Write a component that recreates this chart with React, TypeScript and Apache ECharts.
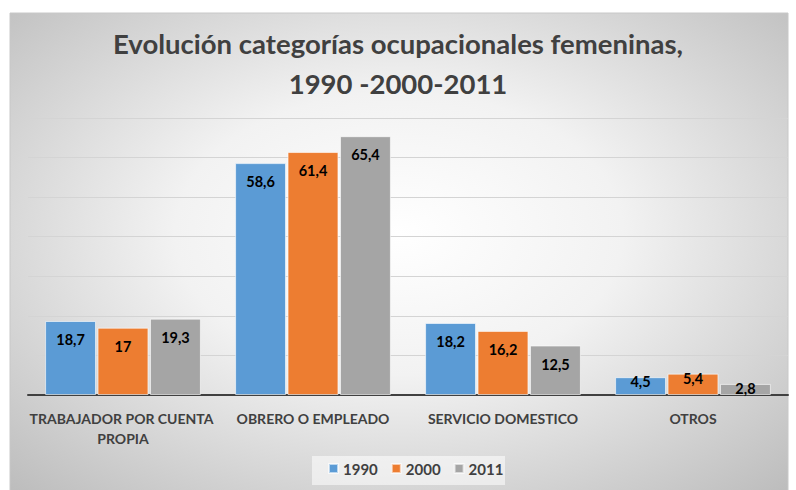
import React, { useEffect, useRef } from "react";
import * as echarts from "echarts";

const categories = ["TRABAJADOR POR CUENTA PROPIA", "OBRERO O EMPLEADO", "SERVICIO DOMESTICO", "OTROS"];
const seriesNames = ["1990", "2000", "2011"];
const values1990 = [18.7, 58.6, 18.2, 4.5];
const values2000 = [17, 61.4, 16.2, 5.4];
const values2011 = [19.3, 65.4, 12.5, 2.8];
const colors = ["#5B9BD5", "#ED7D31", "#A5A5A5"];

const FONT = "Lato, 'Open Sans', sans-serif";

export default function App() {
  const ref = useRef<HTMLDivElement>(null);
  useEffect(() => {
    const chart = echarts.init(ref.current!, null, { renderer: "svg" });
    const all = [values1990, values2000, values2011];
    const series = all.map((vals, i) => ({
      name: seriesNames[i],
      type: "bar",
      barGap: "3%",
      barCategoryGap: "18%",
      itemStyle: { color: colors[i], borderColor: "rgba(255,255,255,0.6)", borderWidth: 1 },
      data: vals.map((v) =>
        v < 8
          ? { value: v, label: { position: "top", distance: -12 } }
          : { value: v }
      ),
      label: {
        show: true,
        position: "insideTop",
        distance: 11,
        color: "#000",
        fontWeight: "bold",
        fontSize: 14.5,
        fontFamily: FONT,
        formatter: (p: any) => String(p.value).replace(".", ","),
      },
    }));
    chart.setOption({
      animation: false,
      graphic: [
        {
          type: "rect",
          shape: { x: 10, y: 13, width: 778, height: 490 },
          style: {
            fill: {
              type: "radial",
              x: 0.5,
              y: 0.45,
              r: 0.72,
              colorStops: [
                { offset: 0, color: "#ffffff" },
                { offset: 0.4, color: "#f2f2f2" },
                { offset: 1, color: "#bdbdbd" },
              ],
            },
            stroke: "#c8c8c8",
            lineWidth: 1,
          },
          z: -10,
        },
        {
          type: "rect",
          shape: { x: 312, y: 456, width: 193, height: 29 },
          style: { fill: "rgba(255,255,255,0.55)" },
          z: -5,
        },
      ],
      title: {
        text: "Evolución categorías ocupacionales femeninas,\n1990 -2000-2011",
        left: "center",
        top: 18,
        textStyle: {
          fontFamily: FONT,
          fontSize: 27.5,
          fontWeight: "bold",
          color: "#404040",
          lineHeight: 40,
        },
      },
      legend: {
        bottom: 9,
        left: 323,
        itemWidth: 9,
        itemHeight: 9,
        itemGap: 13,
        icon: "rect",
        textStyle: { fontFamily: FONT, fontSize: 15, fontWeight: "bold", color: "#404040" },
        data: seriesNames,
      },
      grid: { left: 28, right: 8, top: 118, bottom: 95 },
      xAxis: {
        type: "category",
        data: categories,
        axisTick: { show: false },
        axisLine: { lineStyle: { color: "#404040", width: 2 } },
        axisLabel: {
          interval: 0,
          margin: 13,
          width: 195,
          overflow: "break",
          color: "#404040",
          fontWeight: "bold",
          fontSize: 14,
          fontFamily: FONT,
          lineHeight: 20,
        },
      },
      yAxis: {
        type: "value",
        min: 0,
        max: 70,
        interval: 10,
        axisLabel: { show: false },
        splitLine: { lineStyle: { color: "#d4d4d4", width: 1 } },
      },
      series,
    });
    return () => chart.dispose();
  }, []);
  return (
    <div
      ref={ref}
      style={{ position: "absolute", left: 0, top: 0, width: 796, height: 490 }}
    />
  );
}
